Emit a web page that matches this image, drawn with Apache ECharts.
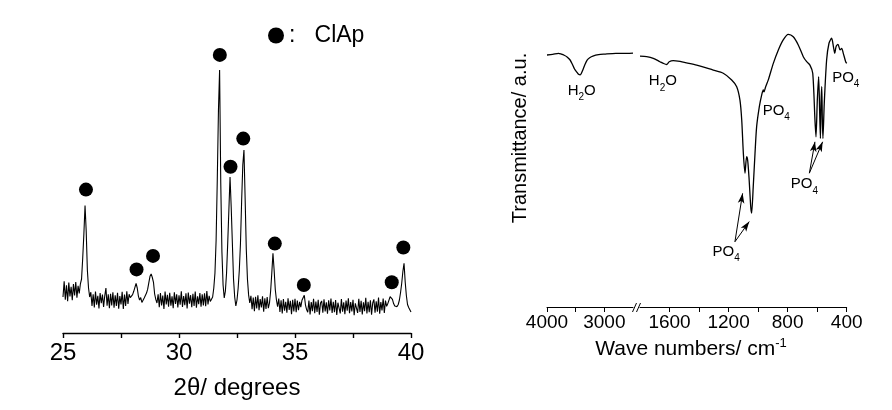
<!DOCTYPE html>
<html><head><meta charset="utf-8">
<script src="https://cdn.jsdelivr.net/npm/echarts@6/dist/echarts.min.js"></script>
<style>html,body{margin:0;padding:0;background:#fff}#c{width:892px;height:410px}</style>
</head><body><div id="c"></div>
<script>
// ---------- XRD (left panel) ----------
const xrdStart = 25, xrdStep = 0.05;   // 2θ sampling of the intensity list
const xrdIntensity = [
 12.0,17.2,11.1,15.9,10.6,16.8,12.2,15.4,10.9,16.3,12.5,17.0,11.8,15.7,13.2,16.4,
 18,25,33,42.5,34,21,15,12,
 13.6,9.0,12.9,8.5,13.8,9.4,12.4,8.2,13.3,9.9,12.8,8.7,12.4,15.0,9.1,12.9,8.3,13.1,9.2,13.6,
 8.4,12.6,9.0,13.4,8.1,12.3,9.5,13.7,8.0,12.8,9.0,13.9,9.7,12.9,11.8,
 12.0,12.8,13.9,15.2,16.5,15.0,12.3,11.0,11.8,10.2,10.5,11.7,12.2,13.3,14.6,16.8,18.9,19.7,18.5,16.9,
 13.0,11.2,10.0,
 12.9,8.6,13.3,9.2,12.5,8.0,13.8,9.5,12.7,8.8,13.4,9.1,12.2,8.3,13.6,9.7,12.9,8.5,12.6,9.4,
 13.9,8.7,12.3,9.3,13.2,8.2,13.5,9.8,12.6,8.6,13.1,9.0,13.8,8.4,12.2,9.6,13.3,8.8,12.9,9.2,
 13.2,8.9,14.0,9.5,12.4,
 10.5,10.2,12,15,20,31,51,74,87.7,50,27,16,11.7,14,20,30,41,52,42,30,18,12,9,11,15,21,30,44,56,61,
 45,28,18,12.7,10,
 12.4,7.9,11.8,7.3,12.1,8.2,12.6,7.6,11.3,8.5,12.2,7.1,11.6,8.0,12.0,8.3,
 10,14,20,26.6,21,14.5,11,8.8,
 11.5,7.0,10.9,6.5,11.3,7.4,10.4,6.8,11.6,7.7,10.7,6.3,11.1,7.2,11.4,6.9,10.8,7.6,
 10.4,8.6,10.9,11.3,12.6,9.4,7.8,
 6.9,10.8,6.2,10.3,7.3,11.4,6.6,10.5,7.0,11.1,6.1,10.0,10.7,6.8,11.2,7.2,10.2,6.4,10.9,7.5,
 11.5,6.7,10.4,6.9,11.0,6.0,10.1,10.6,6.5,11.3,7.1,10.2,6.3,10.8,7.4,11.6,6.6,10.3,7.2,11.1,
 5.9,9.9,10.5,6.7,11.4,7.0,10.7,6.2,10.2,7.3,11.7,6.5,10.4,6.9,10.9,6.1,10.0,11.2,6.8,10.6,
 7.1,11.8,6.4,10.3,7.5,11.5,6.7,10.8,8.9,
 9.8,10.3,12.1,12.7,11.2,9.8,9.0,9.6,8.8,9.5,11.0,13.5,16.6,20.5,23.2,17.0,12.5,9.5,8.5,8.0,7.0
];
const clapMarkX = [25.99, 28.17, 28.88, 31.76, 32.22, 32.77, 34.13, 35.38, 39.17, 39.67];
const clapMarkY = [47.8, 21.2, 25.7, 92.7, 55.4, 64.8, 29.8, 16.0, 16.9, 28.5];
const xrdTickValues = [25, 27.5, 30, 32.5, 35, 37.5, 40];
const xrdLabelValues = [25, 30, 35, 40];

// ---------- FTIR (right panel) ----------
const irHighWN = [4000,3900,3800,3750,3700,3650,3600,3560,3520,3480,3450,3420,3400,3370,3340,3300,3250,3200,3100,3000,2800,2600,2500];
const irHighT  = [90.0,90.2,90.6,90.3,89.9,89.3,88.3,86.8,85.0,83.9,83.1,82.9,83.5,84.9,86.5,88.2,89.1,89.6,90.1,90.3,90.6,90.6,90.7];
const irLowWN = [1800,1755,1710,1665,1642,1620,1602,1575,1529,1484,1416,1304,1236,1179,1145,1123,1111,1100,1089,1078,1071,1062,1050,1044,1033,1021,1010,992,976,965,960,950,931,897,863,830,796,762,728,694,671,649,630,615,608,599,590,583,578,574,569,565,561,552,536,520,502,490,481,472,459,445,434,423,407,400];
const irLowT  = [89.6,89.4,88.8,87.6,87.0,86.6,87.6,88.0,87.7,87.2,86.4,84.6,83.5,81.1,78.7,73.9,66.8,54.9,47.8,53.7,52.5,46.5,35.8,33.5,43,54.9,64.4,71.5,75.7,77.5,76.8,78.5,81.1,87,91.8,95.4,97.4,96.5,93.6,89.4,87.6,86.4,83.5,66.8,60.8,73.9,82.3,69.2,60.2,72.7,78.7,66.8,60.2,72.7,88.2,94.2,96,93,90.6,93,93.8,91.8,92.4,90.6,87.6,87];
const irHighTicks = [3000,3500,4000], irHighLabels = [3000,4000];
const irLowTicks = [400,600,800,1000,1200,1400,1600], irLowLabels = [400,800,1200,1600];
// band annotations [text, subscript, wavenumber, transmittance]
const irHighNotes = [['H','2O',3394,77.3]];
const irLowNotes = [['H','2O',1645,80.7],['PO','4',1216,19.8],['PO','4',877,70.1],['PO','4',686,43.9],['PO','4',406,81.9]];
// arrows [fromWN, fromT, toWN, toT]
const irArrows = [[1157,23.3,1105,40.6],[1157,23.3,1060,30.5],[653,47.8,615,59],[653,47.8,563,59]];

const FONT = '"Liberation Sans", Arial, Helvetica, sans-serif';
const chart = echarts.init(document.getElementById('c'), null, {renderer:'canvas'});

function noteLabel(n){
  let fmt;
  if (n[1] === '2O') fmt = '{a|H}{s|2}{a|O}';
  else fmt = '{a|' + n[0] + '}{s|' + n[1] + '}';
  return {
    coord: [n[2], n[3]],
    label: {show: true, position: 'inside', formatter: fmt,
      rich: {a: {fontSize: 15, fontFamily: FONT, color: '#000', lineHeight: 24, verticalAlign: 'middle'},
             s: {fontSize: 10, fontFamily: FONT, color: '#000', lineHeight: 10, verticalAlign: 'bottom'}}}
  };
}
const markPointBase = {symbol: 'circle', symbolSize: 1, silent: true, itemStyle: {color: 'rgba(0,0,0,0)'}};
const plain = v => String(v);

const axisCommon = {
  type: 'value', splitLine: {show: false},
  axisLine: {show: true, onZero: false, lineStyle: {color: '#000', width: 1}},
  axisTick: {show: true, inside: false, length: 5, lineStyle: {color: '#000', width: 1}},
};

const option = {
  animation: false,
  backgroundColor: '#fff',
  textStyle: {fontFamily: FONT},
  legend: {
    show: true, left: 263, top: 19, itemWidth: 16, itemHeight: 16, icon: 'circle',
    data: ['ClAp'], selectedMode: false,
    formatter: n => ':   ' + n,
    textStyle: {fontSize: 23, color: '#000', fontFamily: FONT}
  },
  grid: [
    {left: 63, right: 481, top: 33, bottom: 77},
    {left: 547, right: 259, top: 27, bottom: 103},
    {left: 640, right: 45.3, top: 27, bottom: 103}
  ],
  xAxis: [
    Object.assign({}, axisCommon, {gridIndex: 0, min: 25, max: 40,
      axisLine: {show: true, onZero: false, lineStyle: {color: '#000', width: 1.4}},
      axisTick: {show: true, length: 5, customValues: xrdTickValues, lineStyle: {color: '#000', width: 1.4}},
      axisLabel: {customValues: xrdLabelValues, formatter: plain, fontSize: 24, color: '#000', margin: 8, fontFamily: FONT},
      name: '2θ/ degrees', nameLocation: 'middle', nameGap: 43,
      nameTextStyle: {fontSize: 24, color: '#000', fontFamily: FONT}}),
    Object.assign({}, axisCommon, {gridIndex: 1, min: 2500, max: 4000, inverse: true,
      axisTick: {show: true, length: 5, customValues: irHighTicks, lineStyle: {color: '#000'}},
      axisLabel: {customValues: irHighLabels, formatter: plain, fontSize: 19, color: '#000', margin: 6, fontFamily: FONT}}),
    Object.assign({}, axisCommon, {gridIndex: 2, min: 400, max: 1800, inverse: true,
      axisTick: {show: true, length: 5, customValues: irLowTicks, lineStyle: {color: '#000'}},
      axisLabel: {customValues: irLowLabels, formatter: plain, fontSize: 19, color: '#000', margin: 6, fontFamily: FONT}})
  ],
  yAxis: [
    {type: 'value', gridIndex: 0, min: 0, max: 100, show: false},
    {type: 'value', gridIndex: 1, min: 0, max: 100, show: false},
    {type: 'value', gridIndex: 2, min: 0, max: 100, show: false}
  ],
  series: [
    {type: 'line', xAxisIndex: 0, yAxisIndex: 0, showSymbol: false, silent: true,
     lineStyle: {color: '#000', width: 1.1},
     data: xrdIntensity.map((v, i) => [+(xrdStart + i * xrdStep).toFixed(2), v])},
    {type: 'scatter', name: 'ClAp', xAxisIndex: 0, yAxisIndex: 0, symbol: 'circle', symbolSize: 14,
     itemStyle: {color: '#000', opacity: 1}, silent: true,
     data: clapMarkX.map((x, i) => [x, clapMarkY[i]])},
    {type: 'line', xAxisIndex: 1, yAxisIndex: 1, showSymbol: false, silent: true, smooth: 0.25,
     lineStyle: {color: '#000', width: 1.3},
     data: irHighWN.map((w, i) => [w, irHighT[i]]),
     markPoint: Object.assign({}, markPointBase, {data: irHighNotes.map(noteLabel)})},
    {type: 'line', xAxisIndex: 2, yAxisIndex: 2, showSymbol: false, silent: true, smooth: 0.25,
     lineStyle: {color: '#000', width: 1.3},
     data: irLowWN.map((w, i) => [w, irLowT[i]]),
     markPoint: Object.assign({}, markPointBase, {data: irLowNotes.map(noteLabel)}),
     markLine: {silent: true, symbol: ['none', 'arrow'], symbolSize: [5, 10], label: {show: false},
       lineStyle: {color: '#000', width: 1, type: 'solid'},
       data: irArrows.map(a => [{coord: [a[0], a[1]]}, {coord: [a[2], a[3]]}])}}
  ],
  graphic: [
    {type: 'line', shape: {x1: 632.5, y1: 312, x2: 636.5, y2: 303}, style: {stroke: '#000', lineWidth: 1}},
    {type: 'line', shape: {x1: 636.5, y1: 312, x2: 640.5, y2: 303}, style: {stroke: '#000', lineWidth: 1}},
    {type: 'text', x: 691, y: 349,
     style: {text: '{a|Wave numbers/ cm}{s|-1}', align: 'center', verticalAlign: 'middle',
       rich: {a: {fontSize: 21, fontFamily: FONT, fill: '#000', lineHeight: 24, verticalAlign: 'middle'},
              s: {fontSize: 13, fontFamily: FONT, fill: '#000', lineHeight: 12, verticalAlign: 'top'}}}},
    {type: 'text', x: 520, y: 138, rotation: Math.PI / 2,
     style: {text: 'Transmittance/ a.u.', align: 'center', verticalAlign: 'middle',
       font: '20px ' + FONT, fill: '#000'}}
  ]
};
chart.setOption(option);
</script></body></html>
